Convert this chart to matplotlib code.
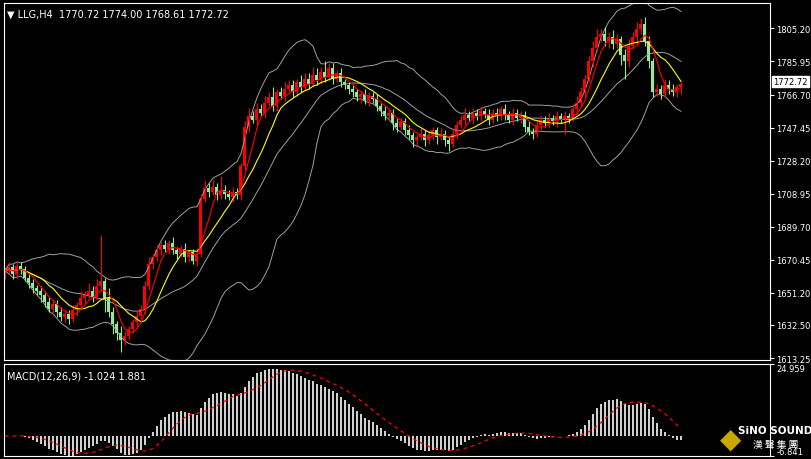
import matplotlib
matplotlib.use("Agg")
import matplotlib.pyplot as plt
import numpy as np
import pandas as pd

# H4 closes (open = previous close)
closes = [
    1664, 1666, 1662, 1667, 1665, 1660, 1657, 1654, 1652, 1650,
    1646, 1642, 1645, 1640, 1637, 1639, 1636, 1641, 1644, 1648,
    1650, 1652, 1649, 1655, 1658, 1648, 1640, 1633, 1628, 1624,
    1626, 1630, 1634, 1638, 1642, 1655, 1668, 1672, 1676, 1679,
    1677, 1680, 1676, 1674, 1677, 1672, 1675, 1670, 1674, 1706,
    1712, 1710, 1713, 1708, 1711, 1709, 1707, 1710, 1708, 1725,
    1748, 1754, 1752, 1758, 1756, 1762, 1765, 1760, 1768, 1766,
    1770, 1772, 1768, 1774, 1771, 1776, 1773, 1778, 1775, 1780,
    1777, 1782, 1776, 1779, 1774, 1772, 1770, 1768, 1765, 1767,
    1763, 1766, 1764, 1760, 1757, 1754, 1756, 1750, 1748, 1751,
    1746, 1743, 1740, 1742, 1744, 1740, 1743, 1746, 1742, 1744,
    1740, 1738, 1744, 1749, 1752, 1755, 1753, 1756, 1754, 1757,
    1755, 1752, 1756, 1754, 1758, 1755, 1752, 1756, 1753, 1755,
    1748, 1745, 1744, 1749, 1752, 1750, 1753, 1751, 1754, 1752,
    1754, 1753, 1758, 1762, 1768, 1776, 1786, 1794, 1800, 1802,
    1798, 1800, 1796, 1799, 1790, 1786, 1795, 1800, 1805, 1808,
    1798, 1786, 1768, 1770, 1767, 1772, 1770, 1768, 1771, 1772.72,
]
first_open = 1662
# wick lengths beyond the body (upper, lower)
wick_up = [
    2, 3, 2, 2, 2, 2, 3, 2, 2, 3,
    2, 3, 2, 2, 3, 2, 2, 3, 2, 4,
    2, 5, 3, 4, 27, 2, 6, 3, 2, 4,
    3, 2, 2, 3, 2, 3, 4, 2, 3, 2,
    3, 2, 4, 2, 2, 3, 2, 2, 3, 3,
    5, 3, 4, 2, 8, 3, 2, 3, 2, 2,
    3, 5, 3, 4, 3, 4, 3, 6, 2, 3,
    4, 3, 3, 2, 4, 3, 3, 5, 4, 3,
    6, 3, 3, 2, 3, 2, 2, 3, 2, 2,
    3, 2, 2, 3, 2, 3, 2, 2, 3, 2,
    2, 3, 2, 2, 3, 2, 3, 2, 2, 3,
    2, 2, 3, 2, 3, 4, 2, 3, 2, 3,
    2, 3, 2, 3, 2, 3, 2, 3, 2, 2,
    2, 3, 2, 3, 2, 2, 3, 2, 3, 2,
    3, 2, 3, 4, 3, 2, 3, 4, 5, 3,
    4, 3, 4, 3, 2, 3, 4, 3, 4, 3,
    4, 3, 2, 3, 2, 4, 3, 3, 2, 1.3,
]
wick_dn = [
    3, 2, 3, 2, 3, 2, 3, 3, 2, 4,
    3, 2, 3, 3, 2, 3, 3, 2, 3, 2,
    3, 2, 3, 2, 3, 8, 3, 6, 4, 7,
    3, 2, 2, 3, 2, 3, 2, 3, 2, 3,
    2, 3, 2, 3, 2, 3, 3, 2, 3, 2,
    2, 3, 2, 3, 2, 3, 2, 3, 2, 3,
    2, 3, 2, 3, 2, 3, 2, 3, 3, 2,
    3, 2, 3, 2, 3, 2, 3, 2, 3, 2,
    3, 2, 3, 2, 3, 2, 3, 3, 2, 3,
    2, 3, 2, 3, 3, 2, 3, 4, 3, 2,
    3, 2, 4, 3, 2, 3, 2, 3, 4, 2,
    3, 4, 2, 3, 2, 3, 2, 3, 2, 3,
    2, 3, 2, 3, 2, 3, 2, 3, 2, 3,
    3, 2, 3, 2, 3, 2, 3, 2, 3, 2,
    8, 3, 2, 3, 2, 3, 2, 3, 2, 3,
    3, 4, 3, 2, 6, 10, 3, 2, 4, 3,
    3, 4, 3, 2, 3, 2, 3, 2, 3, 4.1,
]

price_ticks = [1805.20, 1785.95, 1766.70, 1747.45, 1728.20, 1708.95,
               1689.70, 1670.45, 1651.20, 1632.50, 1613.25]
title = "LLG,H4  1770.72 1774.00 1768.61 1772.72"
macd_title = "MACD(12,26,9) -1.024 1.881"

BULL, BEAR = "#ff0000", "#90ee90"
CJK = ["Noto Sans CJK TC", "Noto Sans CJK SC", "Noto Sans CJK JP"]

c = np.array(closes, dtype=float)
o = np.concatenate([[first_open], c[:-1]])
hi = np.maximum(o, c) + np.array(wick_up)
lo = np.minimum(o, c) - np.array(wick_dn)
n = len(c)
x = np.arange(n)

s = pd.Series(c)
mid = s.rolling(20, min_periods=1).mean()
sd = s.rolling(20, min_periods=1).std().fillna(0)
ma_fast = s.rolling(5, min_periods=1).mean()
ma_slow = s.rolling(10, min_periods=1).mean()
macd = s.ewm(span=12, adjust=False).mean() - s.ewm(span=26, adjust=False).mean()
signal = macd.rolling(9, min_periods=1).mean()

fig = plt.figure(figsize=(8.12, 4.6), dpi=100, facecolor="black")
ax = fig.add_axes([4 / 812, 99 / 460, 766 / 812, 357 / 460], facecolor="black")
ax2 = fig.add_axes([4 / 812, 3 / 460, 766 / 812, 92 / 460], facecolor="black")

for a in (ax, ax2):
    for sp in a.spines.values():
        sp.set_color("white")
    a.yaxis.tick_right()
    a.tick_params(colors="white", labelsize=6, length=3, pad=1.5)
    a.set_xticks([])
    a.set_xlim(-0.25, 191.25)

ax.plot(x, mid + 2 * sd, color="#a0a0a0", lw=0.7)
ax.plot(x, mid - 2 * sd, color="#a0a0a0", lw=0.7)
ax.plot(x, mid, color="#a0a0a0", lw=0.7)

for i in range(n):
    col = BULL if c[i] >= o[i] else BEAR
    ax.vlines(x[i], lo[i], hi[i], color=col, lw=0.8)
    ax.bar(x[i], max(abs(c[i] - o[i]), 0.4), bottom=min(o[i], c[i]),
           width=0.75, color=col, linewidth=0)

ax.plot(x, ma_slow, color="yellow", lw=0.8)
ax.plot(x, ma_fast, color="red", lw=0.8)

ax.set_ylim(1612.1, 1820)
ax.set_yticks(price_ticks)
ax.set_yticklabels([f"{t:.2f}" for t in price_ticks])
ax.text(1.004, (1774.2 - 1612.1) / (1820 - 1612.1), "1772.72", transform=ax.transAxes,
        fontsize=6, color="black", va="center", ha="left",
        bbox=dict(boxstyle="square,pad=0.12", fc="white", ec="white"))
ax.text(0.004, 0.985, "\u25bc " + title, transform=ax.transAxes, color="white",
        fontsize=7, va="top", ha="left")

ax2.bar(x, macd, width=0.3, color="#d0d0d0", linewidth=0)
ax2.plot(x, signal, color="red", lw=0.9, ls=(0, (3, 3)))
ax2.set_ylim(-6.841, 24.959)
ax2.set_yticks([24.959, -6.841])
ax2.set_yticklabels(["24.959", "-6.841"])
tl = ax2.get_yticklabels()
tl[0].set_va("top")
tl[1].set_va("bottom")
ax2.text(0.004, 0.93, macd_title, transform=ax2.transAxes, color="white",
         fontsize=7, va="top", ha="left")

fig.text(0.955, 0.062, "SiNO SOUND", color="white", fontsize=7.5, fontweight="bold",
         ha="center", va="center")
fig.text(0.955, 0.032, "漢 聲 集 團", color="white", fontsize=7,
         fontfamily=CJK, ha="center", va="center")
fig.text(0.9, 0.045, "\u25c6", color="#c8a800", fontsize=20, ha="center", va="center")

fig.savefig("out.png", dpi=100, facecolor="black")
